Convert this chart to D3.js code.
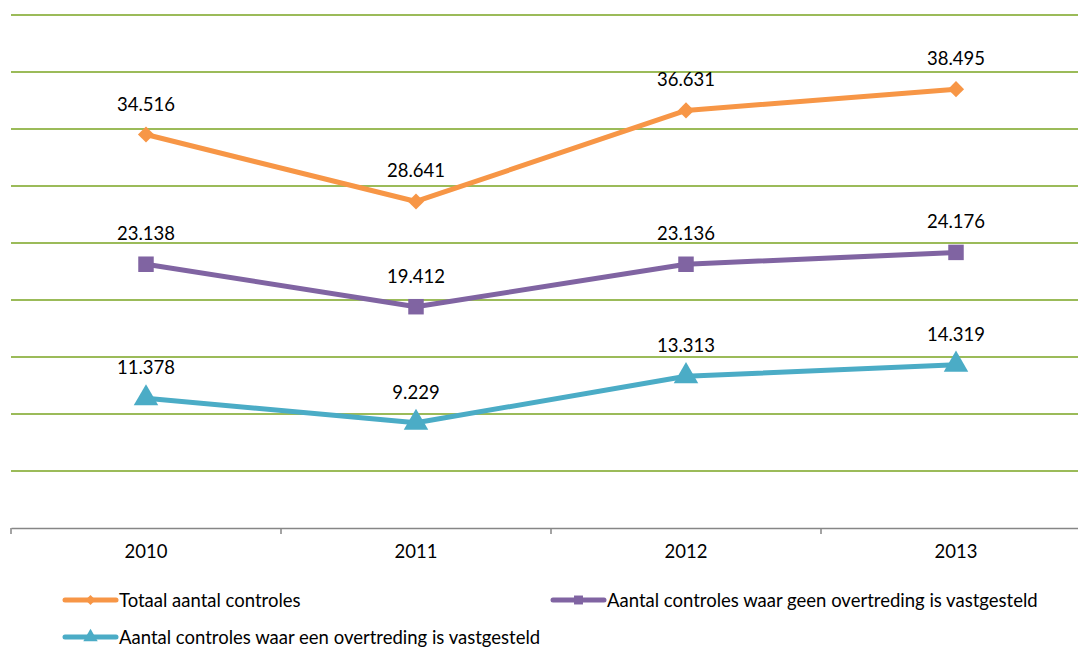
<!DOCTYPE html>
<html><head><meta charset="utf-8">
<script src="https://cdn.jsdelivr.net/npm/d3@7"></script>
<style>body{margin:0;background:#fff;}svg{display:block;font-family:Lato,"Open Sans",sans-serif;}</style>
</head><body>
<svg id="c" width="1078" height="647"></svg>
<script>
const years = ["2010","2011","2012","2013"];
const totaal = [34516, 28641, 36631, 38495];
const geen = [23138, 19412, 23136, 24176];
const een = [11378, 9229, 13313, 14319];
const seriesNames = ["Totaal aantal controles","Aantal controles waar geen overtreding is vastgesteld","Aantal controles waar een overtreding is vastgesteld"];
const colors = ["#f79646","#8064a2","#4bacc6"];
const symbols = [d3.symbolSquare, d3.symbolSquare, d3.symbolTriangle];
const rot = [45, 0, 0];

const svg = d3.select("#c");
const x = d3.scaleBand().domain(years).range([11,1091]);
const y = d3.scaleLinear().domain([0,45000]).range([528,15]);
const fmt = v => d3.format(",")(v).replace(/,/g,".");
const FS = 18.5;

svg.append("g").selectAll("line").data(d3.range(5000,45001,5000)).join("line")
  .attr("x1",11).attr("x2",1078).attr("y1",d=>y(d)).attr("y2",d=>y(d))
  .attr("stroke","#9bbb59").attr("stroke-width",2);

const ax = svg.append("g").attr("transform","translate(0,528)")
  .call(d3.axisBottom(x).tickSize(0).tickPadding(17));
ax.select(".domain").attr("stroke","#868686").attr("stroke-width",1.5);
ax.selectAll("text").attr("font-size",FS).attr("fill","#000").attr("font-family","Lato,'Open Sans',sans-serif");
const bounds = years.map(d=>x(d)).concat([x.range()[1]]);
ax.selectAll(".bt").data(bounds).join("line").attr("class","bt")
  .attr("x1",d=>d).attr("x2",d=>d).attr("y1",0).attr("y2",6).attr("stroke","#868686").attr("stroke-width",1.5);

const data = [totaal, geen, een];
const sizes = [130, 240, 260];
data.forEach((vals,i)=>{
  const pts = vals.map((v,j)=>[x(years[j])+x.bandwidth()/2, y(v), v]);
  svg.append("path").attr("d", d3.line()(pts.map(p=>[p[0],p[1]])))
    .attr("fill","none").attr("stroke",colors[i]).attr("stroke-width",5).attr("stroke-linejoin","round");
  svg.append("g").selectAll("path").data(pts).join("path")
    .attr("transform",p=>`translate(${p[0]},${p[1]}) rotate(${rot[i]})`)
    .attr("d", d3.symbol().type(symbols[i]).size(sizes[i]))
    .attr("fill",colors[i]);
  svg.append("g").selectAll("text").data(pts).join("text")
    .attr("x",p=>p[0]).attr("y",p=>p[1]-24).attr("text-anchor","middle")
    .attr("font-size",FS).attr("fill","#000").text(p=>fmt(p[2]));
});

const leg = [[65,600],[553,600],[65,637]];
const lsz = [50, 80, 90];
seriesNames.forEach((n,i)=>{
  const g = svg.append("g").attr("transform",`translate(${leg[i][0]},${leg[i][1]})`);
  g.append("line").attr("x1",0).attr("x2",51).attr("stroke",colors[i]).attr("stroke-width",5).attr("stroke-linecap","round");
  g.append("path").attr("transform",`translate(25.5,0) rotate(${rot[i]})`).attr("d",d3.symbol().type(symbols[i]).size(lsz[i])).attr("fill",colors[i]);
  g.append("text").attr("x",54).attr("y",6.5).attr("font-size",FS).attr("fill","#000").text(n);
});
</script>
</body></html>
